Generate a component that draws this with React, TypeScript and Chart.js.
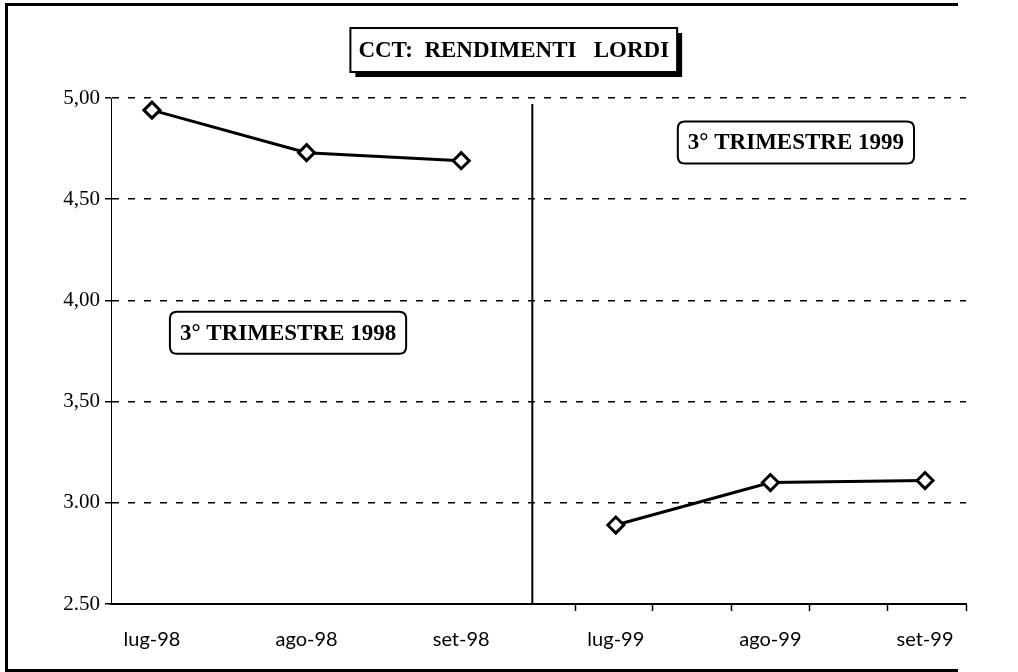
import { useEffect, useRef } from 'react';
import { Chart, registerables } from 'chart.js';

Chart.register(...registerables);

const categories = ['lug-98', 'ago-98', 'set-98', 'lug-99', 'ago-99', 'set-99'];
const yields1998 = [4.94, 4.73, 4.69];
const yields1999 = [2.89, 3.1, 3.11];
const yTickValues = [2.5, 3, 3.5, 4, 4.5, 5];
const yTickLabels = ['2.50', '3.00', '3,50', '4,00', '4,50', '5,00'];
const xTickMarks = [2.74, 3.24, 3.75, 4.25, 4.76, 5.265];
const xMin = -0.265;
const xMax = 5.265;
const dividerX = 2.46;
const dividerTop = 4.97;
const titleText = 'CCT:  RENDIMENTI   LORDI';
const titlePos = { x: 2.34, y: 5.237 };
const boxes = [
  { text: '3° TRIMESTRE 1998', x: 0.88, y: 3.84 },
  { text: '3° TRIMESTRE 1999', x: 4.165, y: 4.78 },
];

function roundRect(ctx: CanvasRenderingContext2D, x: number, y: number, w: number, h: number, r: number) {
  ctx.beginPath();
  ctx.moveTo(x + r, y);
  ctx.lineTo(x + w - r, y);
  ctx.quadraticCurveTo(x + w, y, x + w, y + r);
  ctx.lineTo(x + w, y + h - r);
  ctx.quadraticCurveTo(x + w, y + h, x + w - r, y + h);
  ctx.lineTo(x + r, y + h);
  ctx.quadraticCurveTo(x, y + h, x, y + h - r);
  ctx.lineTo(x, y + r);
  ctx.quadraticCurveTo(x, y, x + r, y);
  ctx.closePath();
}

const decorPlugin = {
  id: 'decor',
  afterDatasetsDraw(chart: any) {
    const ctx: CanvasRenderingContext2D = chart.ctx;
    const xs = chart.scales.x;
    const ys = chart.scales.y;
    ctx.save();
    ctx.setLineDash([]);
    // divider
    const dx = xs.getPixelForValue(dividerX);
    ctx.strokeStyle = '#000';
    ctx.lineWidth = 2;
    ctx.beginPath();
    ctx.moveTo(dx, ys.getPixelForValue(dividerTop));
    ctx.lineTo(dx, ys.getPixelForValue(2.5));
    ctx.stroke();

    // period boxes
    ctx.font = 'bold 23px "Liberation Serif"';
    ctx.textAlign = 'center';
    ctx.textBaseline = 'middle';
    boxes.forEach((b) => {
      const cx = xs.getPixelForValue(b.x);
      const cy = ys.getPixelForValue(b.y);
      const w = ctx.measureText(b.text).width + 20;
      const h = 42;
      roundRect(ctx, cx - w / 2, cy - h / 2, w, h, 7);
      ctx.fillStyle = '#fff';
      ctx.fill();
      ctx.lineWidth = 2;
      ctx.strokeStyle = '#000';
      ctx.stroke();
      ctx.fillStyle = '#000';
      ctx.fillText(b.text, cx, cy + 1);
    });

    // title box with shadow
    ctx.font = 'bold 23px "Liberation Serif"';
    const tx = xs.getPixelForValue(titlePos.x);
    const ty = ys.getPixelForValue(titlePos.y);
    const tw = ctx.measureText(titleText).width + 16;
    const th = 44;
    ctx.fillStyle = '#000';
    ctx.fillRect(tx - tw / 2 + 5, ty - th / 2 + 5, tw, th);
    ctx.fillStyle = '#fff';
    ctx.fillRect(tx - tw / 2, ty - th / 2, tw, th);
    ctx.lineWidth = 2;
    ctx.strokeStyle = '#000';
    ctx.strokeRect(tx - tw / 2, ty - th / 2, tw, th);
    ctx.fillStyle = '#000';
    ctx.fillText(titleText, tx, ty + 1);
    ctx.restore();
  },
};

export default function App() {
  const ref = useRef<HTMLCanvasElement | null>(null);
  useEffect(() => {
    if (!ref.current) return;
    const mk = (vals: number[], off: number) => vals.map((y, i) => ({ x: i + off, y }));
    const dsStyle = {
      borderColor: '#000',
      borderWidth: 3,
      backgroundColor: '#fff',
      pointStyle: 'rectRot',
      pointRadius: 8,
      pointBorderWidth: 3,
      pointBackgroundColor: '#fff',
      pointBorderColor: '#000',
      tension: 0,
      clip: false as any,
    };
    const chart = new Chart(ref.current, {
      type: 'line',
      data: {
        datasets: [
          { label: '1998', data: mk(yields1998, 0), ...dsStyle } as any,
          { label: '1999', data: mk(yields1999, 3), ...dsStyle } as any,
        ],
      },
      options: {
        responsive: false,
        animation: false,
        layout: { padding: { top: 98, right: 52, left: 0, bottom: 0 } },
        plugins: { legend: { display: false }, tooltip: { enabled: false }, title: { display: false } },
        scales: {
          x: {
            type: 'linear',
            min: xMin,
            max: xMax,
            afterBuildTicks: (s: any) => {
              s.ticks = [...categories.map((_, i) => i), ...xTickMarks].map((v) => ({ value: v }));
            },
            afterFit: (s: any) => {
              s.height = 68;
            },
            border: { display: true, color: '#000', width: 2 },
            grid: {
              drawOnChartArea: false,
              drawTicks: true,
              tickLength: 7,
              tickWidth: 1.5,
              tickColor: (c: any) => (Number.isInteger(c.tick?.value) ? 'rgba(0,0,0,0)' : '#000'),
            },
            ticks: {
              autoSkip: false,
              maxRotation: 0,
              padding: 17,
              color: '#000',
              font: { family: 'Lato', size: 20 },
              callback: (v: any) => (Number.isInteger(v) ? categories[v] : ''),
            },
          },
          y: {
            min: 2.5,
            max: 5,
            afterBuildTicks: (s: any) => {
              s.ticks = yTickValues.map((v) => ({ value: v }));
            },
            afterFit: (s: any) => {
              s.width = 111;
            },
            border: { display: true, color: '#000', width: 1, dash: [7, 9] },
            grid: {
              color: '#000',
              lineWidth: 1.5,
              tickLength: 6,
              tickBorderDash: [],
              tickColor: '#000',
            },
            ticks: {
              padding: 5,
              color: '#000',
              font: { family: 'Liberation Serif', size: 21 },
              callback: (v: any) => yTickLabels[yTickValues.indexOf(v)] ?? '',
            },
          },
        },
      },
      plugins: [decorPlugin],
    });
    return () => chart.destroy();
  }, []);
  return (
    <div style={{ position: 'fixed', left: 0, top: 0, width: 1018, height: 672, background: '#fff' }}>
      <div
        style={{
          position: 'absolute',
          left: 5,
          top: 3,
          width: 950,
          height: 663,
          borderLeft: '3px solid #000',
          borderTop: '3px solid #000',
          borderBottom: '3px solid #000',
        }}
      />
      <canvas ref={ref} width={1018} height={672} style={{ position: 'absolute', left: 0, top: 0 }} />
    </div>
  );
}
